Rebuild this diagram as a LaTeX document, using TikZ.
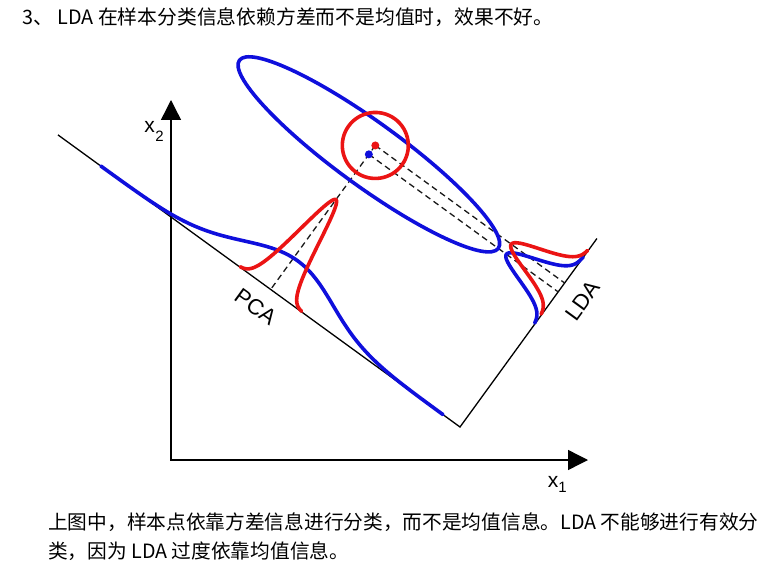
\documentclass[tikz,border=0pt]{standalone}
\usepackage{fontspec}
\setmainfont{Liberation Sans}
\newfontfamily\cjk{Noto Sans CJK SC}
\usetikzlibrary{arrows.meta}
\definecolor{cblue}{RGB}{15,15,220}
\definecolor{cred}{RGB}{235,20,20}
\begin{document}
\begin{tikzpicture}[x=1pt,y=1pt,
  axis/.style={line width=1.4pt, {Triangle[length=20pt,width=20pt]}-{Triangle[length=20pt,width=20pt]}},
  guide/.style={line width=1.3pt, line join=miter},
  proj/.style={line width=1.3pt, dash pattern=on 6pt off 4pt, black!90},
  bcurve/.style={cblue, line width=3.6pt, line cap=round, line join=round},
  rcurve/.style={cred, line width=3.6pt, line cap=round, line join=round},
  lab/.style={inner sep=0pt, font=\fontsize{21}{21}\selectfont},
  sublab/.style={inner sep=0pt, font=\fontsize{15}{15}\selectfont},
  dimlab/.style={inner sep=0pt, font=\fontsize{22}{22}\selectfont},
  cjktext/.style={inner sep=0pt, anchor=base west, font=\cjk\fontsize{19.7}{19.7}\selectfont},
  dotb/.style={circle, fill=cblue, inner sep=0pt, minimum size=8pt},
  dotr/.style={circle, fill=cred, inner sep=0pt, minimum size=8pt}]
\useasboundingbox (0,0) rectangle (768,-572);

% header and footer
\node[cjktext, font=\cjk\fontsize{19.8}{19.8}\selectfont] (head) at (22,-25) {3、 LDA 在样本分类信息依赖方差而不是均值时，效果不好。};
\node[cjktext] (foot1) at (48,-529) {上图中，样本点依靠方差信息进行分类，而不是均值信息。LDA 不能够进行有效分};
\node[cjktext] (foot2) at (48,-558) {类，因为 LDA 过度依靠均值信息。};

% axes
\coordinate (O) at (171,-460);
\coordinate (ytip) at (171,-100);
\coordinate (xtip) at (588,-460);
\draw[axis] (ytip) -- (O) -- (xtip);
\node[lab] (xtwo) at (149.5,-126.7) {x};
\node[sublab] (xtwosub) at (159.5,-136.7) {2};
\node[lab] (xone) at (553,-481.7) {x};
\node[sublab] (xonesub) at (562.5,-487.8) {1};

\begin{scope}[shift={(460,-427)}, rotate=-36]
  \coordinate (C) at (0,0);
  \coordinate (pcaS) at (-497,0);
  \coordinate (ldaE) at (0,233);
  \coordinate (bdot) at (-234,167);
  \coordinate (rdot) at (-234,178);
  \coordinate (pfoot) at (-234,0);
  \coordinate (lfb) at (0,167);
  \coordinate (lfr) at (0,178);

  % PCA and LDA lines
  \draw[guide] (pcaS) -- (C) -- (ldaE);

  % projections
  \draw[proj] (rdot) -- (pfoot);
  \draw[proj] (bdot) -- (lfb);
  \draw[proj] (rdot) -- (lfr);

  % blue class
  \draw[bcurve] (bdot) ellipse [x radius=160, y radius=32];
  \draw[bcurve] plot[domain=-444:-21, samples=160, smooth] (\x, {39*exp(-0.5*((\x+229)/55)^2)});
  \draw[bcurve] plot[domain=128:210, samples=80, smooth] ({-64*exp(-0.5*((\x-167)/13)^2)}, \x);

  % red class
  \draw[rcurve] (rdot) circle [radius=33];
  \draw[rcurve] plot[domain=-272:-196, samples=100, smooth] (\x, {111*exp(-0.5*((\x+234)/11.5)^2)});
  \draw[rcurve] plot[domain=139:218, samples=80, smooth] ({-66*exp(-0.5*((\x-178)/13)^2)}, \x);

  % means
  \node[dotb] (bmean) at (bdot) {};
  \node[dotr] (rmean) at (rdot) {};

  % labels
  \node[dimlab, rotate=-36] (pcalab) at (-236,-23) {PCA};
  \node[dimlab, rotate=54] (ldalab) at (25,174) {LDA};
\end{scope}
\end{tikzpicture}
\end{document}
